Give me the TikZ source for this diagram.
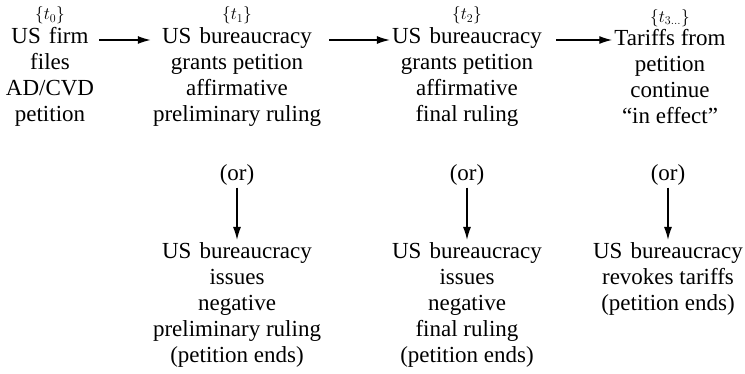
\documentclass[tikz,border=0pt]{standalone}
\usepackage{fontspec}
\setmainfont{Liberation Serif}
\usepackage{tikz}
\usetikzlibrary{positioning,arrows.meta}

\newcommand{\gap}{\hspace{0.35em}}

\tikzset{
  stage/.style={align=center, inner sep=2pt, font=\fontsize{23}{26}\selectfont},
  timelbl/.style={inner sep=1pt, font=\fontsize{17}{18}\selectfont},
  flow/.style={-{Latex[length=13pt,width=8pt]}, line width=1.4pt},
}

\begin{document}
\begin{tikzpicture}
	\useasboundingbox (0,0) rectangle (745pt,-374pt);
	\coordinate (row) at (0,-40pt);
	% top row
	\node [stage] (a0) at (50pt,-77pt) {US\gap firm\\files\\AD/CVD\\petition};
	\node [stage] (a1) at (237pt,-77pt) {US\gap bureaucracy\\grants petition\\affirmative\\preliminary ruling};
	\node [stage] (a2) at (467pt,-77pt) {US\gap bureaucracy\\grants petition\\affirmative\\final ruling};
	\node [stage] (a3) at (670pt,-77pt) {Tariffs from\\petition\\continue\\``in effect''};
	\node [timelbl, above=0pt of a0] (t0) {$\{t_0\}$};
	\node [timelbl, above=0pt of a1] (t1) {$\{t_1\}$};
	\node [timelbl, above=0pt of a2] (t2) {$\{t_2\}$};
	\node [timelbl, above=0pt of a3] (t3) {$\{t_{3\ldots}\}$};
	\draw [flow, shorten <=3pt] (a0.east |- row) -- (a1.west |- row);
	\draw [flow, shorten <=6pt] (a1.east |- row) -- (a2.west |- row);
	\draw [flow, shorten <=12pt] (a2.east |- row) -- (a3.west |- row);
	% alternatives
	\node [stage] (o1) at (237pt,-175pt) {(or)};
	\node [stage] (o2) at (467pt,-175pt) {(or)};
	\node [stage] (o3) at (668pt,-175pt) {(or)};
	\node [stage, anchor=north] (b1) at (237pt,-240pt) {US\gap bureaucracy\\issues\\negative\\preliminary ruling\\(petition ends)};
	\node [stage, anchor=north] (b2) at (467pt,-240pt) {US\gap bureaucracy\\issues\\negative\\final ruling\\(petition ends)};
	\node [stage, anchor=north] (b3) at (668pt,-240pt) {US\gap bureaucracy\\revokes tariffs\\(petition ends)};
	\draw [flow] (o1) -- (b1);
	\draw [flow] (o2) -- (b2);
	\draw [flow] (o3) -- (b3);
\end{tikzpicture}
\end{document}
